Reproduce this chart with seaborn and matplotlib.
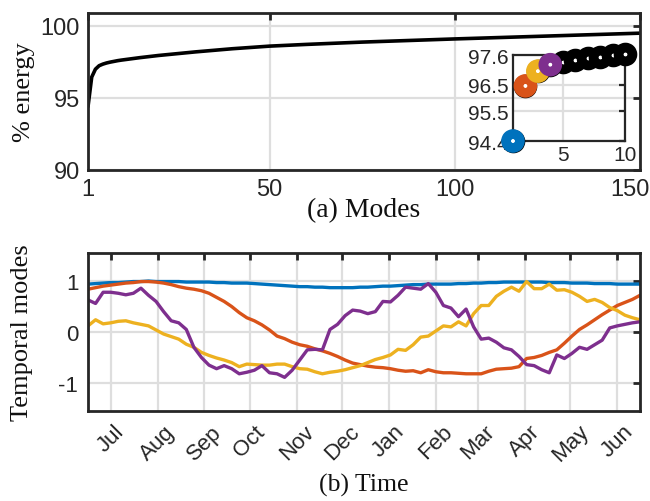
import matplotlib
matplotlib.use("Agg")
import matplotlib.pyplot as plt
import matplotlib.dates as mdates
import matplotlib.transforms as mtransforms
import pandas as pd
import seaborn as sns

# ---- data ----
modes = [1, 2, 3, 4, 5, 6, 7, 8, 9, 10, 15, 20, 30, 40, 50, 60, 75, 100, 125, 150]
energy = [94.40, 96.45, 97.00, 97.24, 97.35, 97.43, 97.49, 97.54, 97.59, 97.63,
          97.80, 97.95, 98.20, 98.42, 98.60, 98.72, 98.88, 99.10, 99.30, 99.50]

inset_modes = [1, 2, 3, 4, 5, 6, 7, 8, 9, 10]
inset_energy = [94.40, 96.45, 97.00, 97.24, 97.35, 97.43, 97.49, 97.54, 97.59, 97.63]
inset_yticks = [94.4, 95.5, 96.5, 97.6]

mode1 = [0.94, 0.95, 0.96, 0.97, 0.97, 0.98, 0.99, 0.99, 1.00, 0.99,
         0.99, 0.99, 0.99, 0.98, 0.98, 0.98, 0.98, 0.97, 0.97, 0.96,
         0.96, 0.96, 0.95, 0.94, 0.93, 0.92, 0.91, 0.90, 0.89, 0.89,
         0.88, 0.88, 0.87, 0.87, 0.87, 0.87, 0.88, 0.88, 0.89, 0.90,
         0.90, 0.91, 0.92, 0.93, 0.93, 0.94, 0.94, 0.94, 0.94, 0.95,
         0.95, 0.96, 0.96, 0.97, 0.97, 0.98, 0.98, 0.98, 0.98, 0.98,
         0.98, 0.97, 0.97, 0.97, 0.96, 0.96, 0.96, 0.95, 0.95, 0.95,
         0.94, 0.94, 0.94, 0.94]
mode2 = [0.84, 0.87, 0.90, 0.92, 0.94, 0.96, 0.97, 0.99, 0.99, 0.98,
         0.96, 0.93, 0.89, 0.86, 0.84, 0.81, 0.76, 0.68, 0.60, 0.50,
         0.38, 0.28, 0.22, 0.14, 0.04, -0.08, -0.13, -0.20, -0.25, -0.28,
         -0.33, -0.37, -0.42, -0.48, -0.55, -0.61, -0.64, -0.67, -0.69, -0.70,
         -0.72, -0.75, -0.77, -0.76, -0.80, -0.74, -0.78, -0.80, -0.80, -0.81,
         -0.82, -0.82, -0.82, -0.77, -0.73, -0.72, -0.71, -0.68, -0.52, -0.50,
         -0.46, -0.40, -0.35, -0.22, -0.08, 0.05, 0.14, 0.24, 0.34, 0.43,
         0.52, 0.58, 0.64, 0.72]
mode3 = [0.12, 0.24, 0.16, 0.18, 0.21, 0.22, 0.18, 0.15, 0.12, 0.04,
         -0.04, -0.09, -0.14, -0.24, -0.30, -0.40, -0.46, -0.51, -0.55, -0.60,
         -0.68, -0.63, -0.64, -0.65, -0.65, -0.63, -0.63, -0.68, -0.72, -0.73,
         -0.78, -0.82, -0.79, -0.77, -0.74, -0.70, -0.66, -0.60, -0.54, -0.50,
         -0.45, -0.34, -0.36, -0.25, -0.10, -0.08, 0.02, 0.12, 0.10, 0.20,
         0.12, 0.36, 0.52, 0.52, 0.70, 0.80, 0.88, 0.80, 0.99, 0.85,
         0.85, 0.94, 0.82, 0.83, 0.78, 0.70, 0.60, 0.64, 0.58, 0.48,
         0.42, 0.33, 0.28, 0.24]
mode4 = [0.63, 0.56, 0.78, 0.78, 0.76, 0.73, 0.76, 0.86, 0.72, 0.60,
         0.40, 0.22, 0.18, 0.05, -0.30, -0.50, -0.65, -0.72, -0.66, -0.72,
         -0.82, -0.79, -0.75, -0.66, -0.80, -0.82, -0.89, -0.75, -0.55, -0.35,
         -0.34, -0.35, 0.05, 0.15, 0.32, 0.43, 0.41, 0.36, 0.40, 0.60,
         0.59, 0.72, 0.88, 0.86, 0.84, 0.95, 0.78, 0.52, 0.47, 0.30,
         0.45, 0.10, -0.14, -0.12, -0.20, -0.31, -0.35, -0.48, -0.64, -0.66,
         -0.74, -0.80, -0.45, -0.52, -0.42, -0.30, -0.34, -0.25, -0.16, 0.08,
         0.12, 0.15, 0.18, 0.20]
dates = pd.date_range("2018-06-16", periods=74, freq="5D")

mode_colors = ["#0072BD", "#D95319", "#EDB120", "#7E2F8E"]
axis_col = "#262626"
grid_col = "#dedede"

sns.set_theme(style="white")
plt.rcParams["font.family"] = ["Liberation Sans", "DejaVu Sans"]
plt.rcParams["axes.unicode_minus"] = False
serif = ["Liberation Serif", "DejaVu Serif"]


def style_axes(ax, size, pad):
    for sp in ax.spines.values():
        sp.set_color(axis_col)
        sp.set_linewidth(2)
        sp.set_visible(True)
    ax.tick_params(direction="in", top=True, right=True, length=5, width=2,
                   color=axis_col, labelcolor=axis_col, labelsize=size, pad=pad)
    ax.grid(True, color=grid_col, lw=1.6)
    ax.set_axisbelow(True)


fig = plt.figure(figsize=(6.5, 5.02), dpi=100)

# (a) cumulative energy
ax1 = fig.add_axes([0.1354, 0.6594, 0.8492, 0.3127])
sns.lineplot(x=modes, y=energy, color="black", lw=2.6, ax=ax1)
ax1.set_xlim(1, 150)
ax1.set_ylim(90, 100.9)
ax1.set_xticks([1, 50, 100, 150])
ax1.set_yticks([90, 95, 100])
style_axes(ax1, 17, 6)
last = ax1.get_xticklabels()[-1]
last.set_transform(last.get_transform() +
                   mtransforms.ScaledTranslation(-10 / 100, 0, fig.dpi_scale_trans))
ax1.set_xlabel("(a) Modes", family=serif, fontsize=20, color="#111111", va="top")
ax1.set_ylabel("% energy", family=serif, fontsize=19, color="#111111")
ax1.xaxis.set_label_coords(0.5, -0.175)
ax1.yaxis.set_label_coords(-0.096, 0.5)

# inset with first ten modes
ax_in = fig.add_axes([0.7892, 0.7171, 0.1723, 0.1713])
ax_in.patch.set_alpha(0)
ax_in.scatter(inset_modes, inset_energy, s=100, facecolor="white",
              edgecolors="black", linewidths=7, clip_on=False, zorder=3)
ax_in.scatter(inset_modes[:4], inset_energy[:4], s=100, facecolor="white",
              edgecolors=mode_colors, linewidths=7, clip_on=False, zorder=4)
ax_in.set_xlim(1, 10)
ax_in.set_ylim(94.4, 97.6)
ax_in.set_xticks([5, 10])
ax_in.set_yticks(inset_yticks)
ax_in.set_yticklabels([f"{v:.1f}" for v in inset_yticks])
style_axes(ax_in, 15, 3)
for sp in ax_in.spines.values():
    sp.set_linewidth(1.6)
ax_in.tick_params(width=1.6, length=4)

# (b) temporal modes
ax2 = fig.add_axes([0.1354, 0.1793, 0.8492, 0.3147])
df = pd.DataFrame({"date": dates, "1": mode1, "2": mode2, "3": mode3, "4": mode4})
long = df.melt(id_vars="date", var_name="mode", value_name="value")
sns.lineplot(data=long, x="date", y="value", hue="mode", palette=mode_colors,
             lw=2.4, legend=False, ax=ax2)
ax2.set_xlim(dates[0], dates[-1])
ax2.set_ylim(-1.55, 1.55)
ax2.set_yticks([-1, 0, 1])
ax2.xaxis.set_major_locator(mdates.MonthLocator())
ax2.xaxis.set_major_formatter(mdates.DateFormatter("%b"))
style_axes(ax2, 16, 7)
ax2.tick_params(axis="x", labelsize=16, pad=7)
plt.setp(ax2.get_xticklabels(), rotation=45, ha="center")
ax2.set_xlabel("(b) Time", family=serif, fontsize=18.5, color="#111111", va="center")
ax2.set_ylabel("Temporal modes", family=serif, fontsize=19, color="#111111")
ax2.xaxis.set_label_coords(0.5, -0.468)
ax2.yaxis.set_label_coords(-0.1, 0.5)

fig.savefig("out.png", dpi=100)
